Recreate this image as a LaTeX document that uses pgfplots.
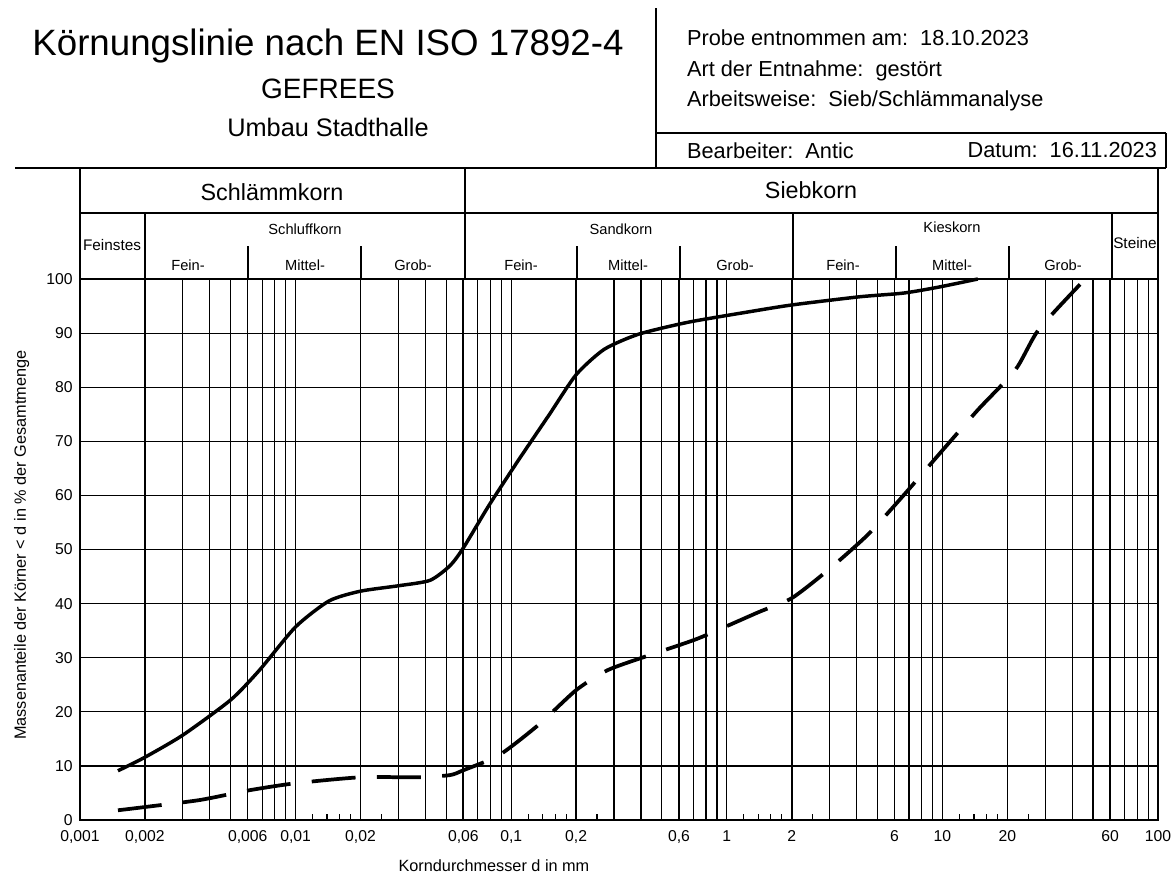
\documentclass[border=0pt]{standalone}
\usepackage{pgfplots}
\pgfplotsset{compat=1.18}
\usepackage{fontspec}
\setmainfont{Liberation Sans}
\pgfplotstableread{
d p
0.0015 9.1
0.002 11.6
0.003 15.7
0.005 22.2
0.0068 27.7
0.01 35.7
0.0143 40.5
0.02 42.3
0.03 43.3
0.042 44.3
0.052 47.0
0.06 50.3
0.079 58.2
0.108 66.5
0.15 74.9
0.2 82.3
0.27 87.0
0.39 89.8
0.66 92.0
1.25 93.9
2 95.2
4.1 96.7
6.6 97.4
9.6 98.5
14.6 100
}\probeA
\pgfplotstableread{
d p
0.0015 1.8
0.002 2.4
0.0036 3.7
0.0061 5.5
0.01 6.8
0.02 7.9
0.037 7.9
0.052 8.3
0.06 9.2
0.088 12.0
0.134 17.6
0.2 24.0
0.28 27.7
0.44 30.5
0.74 33.6
1.4 38.4
2 41.0
2.95 46.2
4.5 52.7
6.6 60.0
9.6 67.5
14.6 75.8
21.8 83.2
27.9 90.6
43.5 99.0
}\probeB
\begin{document}
\begin{tikzpicture}
\path[use as bounding box] (0pt,0pt) rectangle (879pt,-657pt);
\begin{scope}[x=0.75pt,y=-0.75pt,line width=1pt]
% title block
\node at (328,46) {\fontsize{27.5}{30}\selectfont Körnungslinie nach EN ISO 17892-4};
\node at (328,89) {\fontsize{21}{24}\selectfont GEFREES};
\node at (328,127) {\fontsize{19}{22}\selectfont Umbau Stadthalle};
\draw (656,8) -- (656,168);
\draw (656,133) -- (1166,133);
\draw (1166,133) -- (1166,168);
\draw (15,168) -- (1166,168);
\node[anchor=west] at (682,38) {\fontsize{16.3}{18}\selectfont Probe entnommen am:\ \ 18.10.2023};
\node[anchor=west] at (682,71) {\fontsize{16.3}{18}\selectfont Art der Entnahme:\ \ gestört};
\node[anchor=west] at (682,101) {\fontsize{16.3}{18}\selectfont Arbeitsweise:\ \ Sieb/Schlämmanalyse};
\node[anchor=west] at (682,151) {\fontsize{16.3}{18}\selectfont Bearbeiter:\ \ Antic};
\node[anchor=east] at (1162,150) {\fontsize{16.3}{18}\selectfont Datum:\ \ 16.11.2023};
% chart header
\draw (80,168) -- (80,279);
\draw (1158,168) -- (1158,279);
\draw (80,213) -- (1158,213);
\draw[line width=1.3pt] (465,168) -- (465,279);
\draw (145,213) -- (145,279);
\draw (793,213) -- (793,279);
\draw (1112,213) -- (1112,279);
\foreach \xx in {248,361,577,680,896,1009} \draw (\xx,246) -- (\xx,279);
\node at (272,192) {\fontsize{17.5}{20}\selectfont Schlämmkorn};
\node at (811,190) {\fontsize{17.5}{20}\selectfont Siebkorn};
\node at (305,229) {\fontsize{11}{13}\selectfont Schluffkorn};
\node at (621,229) {\fontsize{11}{13}\selectfont Sandkorn};
\node at (952,227) {\fontsize{11}{13}\selectfont Kieskorn};
\node at (112,245) {\fontsize{11.5}{13}\selectfont Feinstes};
\node at (1135,243) {\fontsize{11.5}{13}\selectfont Steine};
\foreach \xx/\tt in {188/Fein-,305/Mittel-,413/Grob-,521/Fein-,628/Mittel-,735/Grob-,843/Fein-,952/Mittel-,1063/Grob-}
  \node at (\xx,265) {\fontsize{11}{13}\selectfont \tt};
\end{scope}
\begin{axis}[
  at={(60pt,-615pt)}, anchor=south west,
  width=808.5pt, height=405.75pt, scale only axis,
  xmode=log, xmin=0.001, xmax=100, ymin=0, ymax=100,
  axis line style={line width=1pt},
  xtick={0.001,0.002,0.006,0.01,0.02,0.06,0.1,0.2,0.6,1,2,6,10,20,60,100},
  xticklabels={0{,}001,0{,}002,0{,}006,0{,}01,0{,}02,0{,}06,0{,}1,0{,}2,0{,}6,1,2,6,10,20,60,100},
  minor xtick={0.003,0.004,0.005,0.007,0.008,0.009,0.03,0.04,0.05,0.07,0.08,0.09,0.3,0.4,0.5,0.7,0.8,0.9,3,4,5,7,8,9,30,40,50,70,80,90},
  ytick={0,10,...,100},
  xmajorgrids, xminorgrids, ymajorgrids,
  grid style={black,line width=0.9pt},
  minor grid style={black,line width=0.9pt},
  major tick length=0pt, minor tick length=0pt,
  extra x ticks={0.012,0.014,0.016,0.018,0.025,0.12,0.14,0.16,0.18,0.25,1.2,1.4,1.6,1.8,2.5,12,14,16,18,25},
  extra x tick labels={},
  extra x tick style={grid=none, major tick length=4.5pt, tick align=inside, xtick pos=bottom, tick style={black,line width=0.9pt}},
  tick label style={font=\fontsize{11.8}{13}\selectfont},
  /pgf/number format/assume math mode=true,
  yticklabel style={xshift=-2pt},
  xticklabel style={yshift=-4pt, text height=1.6ex, text depth=0.3ex},
  xlabel={Korndurchmesser d in mm},
  ylabel={Massenanteile der Körner < d in \% der Gesamtmenge},
  label style={font=\fontsize{12.2}{14}\selectfont},
  xlabel style={at={(axis description cs:0.384,-0.085)},anchor=center},
  ylabel style={at={(axis description cs:-0.054,0.508)},anchor=center},
  clip=false,
]
\draw[line width=1.6pt] (axis cs:0.002,0) -- (axis cs:0.002,100);
\draw[line width=1.6pt] (axis cs:0.06,0) -- (axis cs:0.06,100);
\draw[line width=1.6pt] (axis cs:2,0) -- (axis cs:2,100);
\draw[line width=1.6pt] (axis cs:60,0) -- (axis cs:60,100);
\addplot[black, line width=2.6pt, smooth, tension=0.4, line join=round] table[x=d,y=p] {\probeA};
\addplot[black, line width=2.8pt, smooth, tension=0.4, dash pattern=on 33pt off 16pt] table[x=d,y=p] {\probeB};
\end{axis}
\end{tikzpicture}
\end{document}
